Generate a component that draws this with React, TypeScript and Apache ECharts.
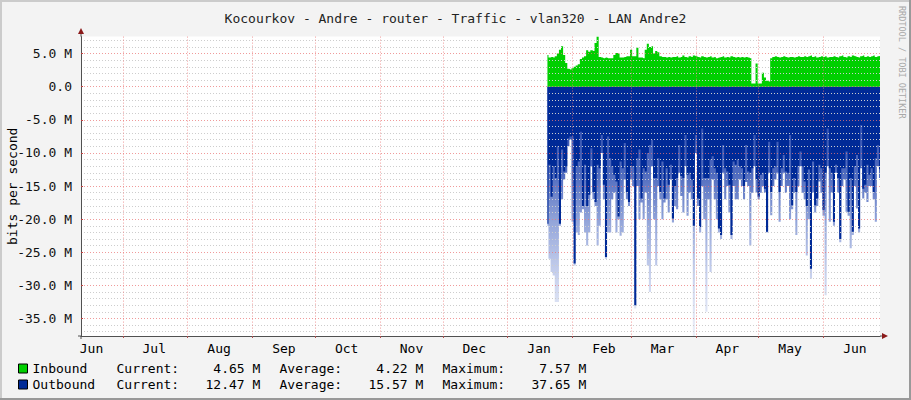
import React, { useEffect, useRef } from "react";
import * as echarts from "echarts";

// ---- data ----
const TITLE = "Kocourkov - Andre - router - Traffic - vlan320 - LAN Andre2";
const START_UTC = Date.UTC(2013, 5, 11); // first day on the x axis (Jun 11)
const DAY_COUNT = 383; // Jun 11 .. Jun 28 of next year
const DATA_START = 223; // first day with data (Jan 20)
const MONTH_NAMES = ["Jan", "Feb", "Mar", "Apr", "May", "Jun", "Jul", "Aug", "Sep", "Oct", "Nov", "Dec"];
const Y_MIN = -37.65;
const Y_MAX = 7.57;
const Y_MAJOR = [-35, -30, -25, -20, -15, -10, -5, 0, 5];

// inbound traffic, Mbit/s, one value per day from Jan 20
const inbound = [
  4.8, 4.4, 4.5, 4.4, 4.6, 5.0, 5.6, 6.1, 4.8, 3.6,
  2.7, 2.6, 2.8, 3.0, 3.2, 3.4, 4.2, 4.4, 4.6, 5.5,
  5.3, 5.5, 5.4, 6.6, 7.57, 4.5, 4.4, 4.3, 4.4, 4.3,
  4.3, 4.3, 4.8, 5.1, 5.0, 4.4, 4.4, 4.5, 4.6, 4.6,
  5.6, 4.6, 4.6, 5.9, 4.4, 4.4, 4.3, 5.6, 6.5, 6.0,
  6.1, 5.0, 5.4, 5.2, 4.6, 4.5, 4.5, 4.4, 4.5, 4.4,
  4.5,
  4.5, 4.6, 4.4, 4.5, 4.7, 4.5, 4.4, 4.6, 4.5, 4.7,
  4.6, 4.5, 4.4, 4.6, 4.5, 4.4, 4.5, 4.6, 4.4, 4.5,
  4.3, 4.4, 4.5, 4.6, 4.4, 4.5, 4.4, 4.6, 4.5, 4.4,
  4.5, 4.4, 4.5, 4.4, 4.5, 4.4, 4.3, 0.5, 0.5, 3.5,
  0.5, 0.5, 2.1, 1.4, 0.9, 0.8, 4.3, 4.5, 4.6, 4.5,
  4.4, 4.5, 4.6, 4.5, 4.4, 4.5, 4.5, 4.4, 4.5, 4.6,
  4.5,
  4.5, 4.6, 4.5, 4.6, 4.7, 4.5, 4.6, 4.4, 4.5, 4.6,
  4.5, 4.6, 4.4, 4.5, 4.5, 4.6, 4.5, 4.4, 4.6, 4.7,
  4.5, 4.4, 4.6, 4.5, 4.7, 4.6, 4.5, 4.4, 4.6, 4.7,
  4.5, 4.6, 4.5, 4.6, 4.7, 4.5, 4.6, 4.65,
];

// outbound traffic (drawn negative), Mbit/s, solid part per day
const outbound = [
  -20.7, -11.8, -16.6, -12, -13.8, -9, -20.7, -9.5, -12.8, -12,
  -7.8, -7.5, -7.5, -26.7, -12, -11.3, -6.8, -18, -11.8, -18,
  -16.3, -9.3, -15.9, -17.4, -11.8, -12.3, -7.3, -14.8, -25.7, -7.5,
  -10.8, -12, -13.3, -14.3, -19.6, -11.3, -12.3, -8.5, -15.9, -17.4,
  -12, -12, -33, -10.8, -9.5, -16.9, -12.3, -12.8, -10, -8.8,
  -8, -13.8, -13.8, -10.8, -15.9, -11.3, -16.9, -12.3, -14.8, -11.8,
  -19.9,
  -15, -13.8, -8.8, -13.5, -13.8, -7.3, -13.3, -13, -14, -21,
  -7.3, -16.9, -21.2, -6.3, -13.8, -13.8, -13.8, -11, -10.5, -12.3,
  -13, -21.4, -22.4, -8.8, -12.3, -12.8, -14.8, -22.4, -11.3, -11.8,
  -11, -12, -12.3, -15, -8.8, -12.8, -13, -12.3, -7.3, -14,
  -16.6, -13.3, -13, -15.4, -21.9, -8.3, -15.9, -12.3, -12, -8.3,
  -15.9, -12.3, -10.3, -12.8, -13, -7.3, -17.9, -13.8, -15.9, -12,
  -9.8,
  -12, -14.3, -18, -12.5, -27.5, -11.3, -17.9, -16.9, -11.8, -12.3,
  -18.6, -13, -6.3, -12.3, -13, -20.4, -11.8, -13.8, -23, -12.3,
  -12.3, -9.8, -18.9, -13.8, -21.9, -12, -10.3, -21.4, -5.8, -15.4,
  -14.8, -11.8, -13.3, -12.3, -15.9, -10.8, -8.8, -12.47,
];

// outbound short peaks (the faint tails), Mbit/s, per day
const outboundPeak = [
  -21, -26, -28, -28.5, -32.5, -32.5, -21, -17, -14, -13,
  -9, -8, -20.4, -27, -22, -22.4, -19, -18.5, -22, -24,
  -22, -12, -17, -18, -24, -21, -10, -17, -26, -22,
  -22, -17, -16, -22, -20, -22.5, -22, -14, -17, -18,
  -14, -15, -33.5, -15, -20, -17.5, -20, -16, -27, -31,
  -12, -20, -27, -15, -17, -20, -17.5, -17, -19, -14,
  -20.5,
  -18, -18.5, -13, -16.5, -19, -12, -19.5, -16, -17, -37.65,
  -10, -18, -22, -15, -20, -34, -17, -28, -14, -17,
  -20, -22, -23, -13, -17, -15, -19, -23, -15, -17,
  -17, -14, -15, -17, -14.4, -15, -24, -16, -12, -16,
  -17, -16, -15, -16, -22, -13, -19.4, -15, -14, -13,
  -20.4, -15, -13, -16, -15, -20, -18.5, -16, -22.4, -15,
  -12,
  -16, -17, -25.5, -20, -29, -16, -19, -18, -14.3, -16,
  -19.5, -31.5, -12, -20.4, -16, -21, -13, -16, -23.5, -15,
  -14, -18.9, -19.5, -24.4, -22.4, -15, -18.4, -22, -12.3, -16.9,
  -16, -17.4, -15, -15, -17, -20.4, -12, -13.8,
];

const inboundStats = ["4.65 M", "4.22 M", "7.57 M"];
const outboundStats = ["12.47 M", "15.57 M", "37.65 M"];

// ---- styling ----
const MONO = "'DejaVu Sans Mono', monospace";
const GREEN = "#00cf00";
const BLUE = "#002a97";
const MAJOR_GRID = "rgba(235, 120, 120, 0.75)";
const MINOR_GRID = "#cdcdcd";
const AXIS = "#505050";
const ARROW = "#8b1a1a";

const GRID_LEFT = 81;
const GRID_RIGHT = 31;
const GRID_TOP = 36.6;
const GRID_BOTTOM = 64;
const W = 911;
const H = 400;

const NBSP = "\u00a0";
const padValue = (s: string) => NBSP.repeat(Math.max(0, 7 - s.length)) + s;

export default function App() {
  const ref = useRef<HTMLDivElement>(null);

  useEffect(() => {
    document.body.style.margin = "0";
    const el = ref.current;
    if (!el) return;
    const chart = echarts.init(el, null, { renderer: "svg" });

    const days: Date[] = [];
    for (let i = 0; i < DAY_COUNT; i++) days.push(new Date(START_UTC + i * 86400000));
    const categories = days.map((d) => d.toISOString().slice(0, 10));
    const isMonthStart = (i: number) => !!days[i] && days[i].getUTCDate() === 1;
    const isMidMonth = (i: number) => !!days[i] && days[i].getUTCDate() === 16;

    const yMinor: number[] = [];
    for (let v = Math.ceil(Y_MIN); v <= Math.floor(Y_MAX); v++) if (v % 5 !== 0) yMinor.push(v);

    const toPairs = (arr: number[]) => arr.map((v, i) => [DATA_START + i, v]);

    const legendFormatter = (name: string) => {
      const s = name === "Inbound" ? inboundStats : outboundStats;
      return (
        `{n|${name}}` +
        `{l|Current:}{v|${padValue(s[0])}}` +
        `{l|Average:}{v|${padValue(s[1])}}` +
        `{l|Maximum:}{w|${padValue(s[2])}}`
      );
    };
    const richBase = { fontFamily: MONO, fontSize: 13, color: "#000", lineHeight: 13 };

    const plotBottom = H - GRID_BOTTOM;
    const plotRight = W - GRID_RIGHT;

    const fadeGradient = new echarts.graphic.LinearGradient(0, 0, 0, 1, [
      { offset: 0, color: "rgba(20, 55, 165, 0.95)" },
      { offset: 0.35, color: "rgba(30, 65, 172, 0.78)" },
      { offset: 0.55, color: "rgba(45, 80, 182, 0.5)" },
      { offset: 0.8, color: "rgba(70, 100, 195, 0.25)" },
      { offset: 1, color: "rgba(90, 120, 200, 0.12)" },
    ]);

    const option: any = {
      animation: false,
      backgroundColor: "#f3f3f3",
      title: {
        text: TITLE,
        left: "center",
        top: 7,
        textStyle: { fontFamily: MONO, fontSize: 13, fontWeight: "normal", color: "#222" },
      },
      grid: {
        left: GRID_LEFT,
        right: GRID_RIGHT,
        top: GRID_TOP,
        bottom: GRID_BOTTOM,
        containLabel: false,
        outerBoundsMode: "none",
        show: true,
        backgroundColor: "#ffffff",
        borderWidth: 0,
        z: -3,
      },
      legend: {
        data: ["Inbound", "Outbound"],
        orient: "vertical",
        left: 18,
        top: 362,
        padding: 0,
        itemWidth: 9,
        itemHeight: 9,
        itemGap: 3,
        icon: "rect",
        itemStyle: { borderColor: "#000", borderWidth: 1 },
        formatter: legendFormatter,
        textStyle: {
          ...richBase,
          rich: {
            n: { ...richBase, width: 84 },
            l: { ...richBase, width: 89 },
            v: { ...richBase, width: 74 },
            w: { ...richBase, width: 60 },
          },
        },
      },
      xAxis: {
        type: "category",
        data: categories,
        boundaryGap: false,
        axisLine: { show: true, onZero: false, lineStyle: { color: AXIS, width: 1 } },
        axisTick: {
          show: true,
          interval: (i: number) => isMonthStart(i),
          length: 2,
          lineStyle: { color: "#b05050" },
        },
        axisLabel: {
          interval: (i: number) => isMidMonth(i),
          formatter: (v: string) => MONTH_NAMES[new Date(v).getUTCMonth()],
          fontFamily: MONO,
          fontSize: 13,
          color: "#000",
          margin: 6,
        },
        splitLine: {
          show: true,
          interval: (i: number) => isMonthStart(i),
          lineStyle: { color: MAJOR_GRID, type: [1, 2], width: 1 },
        },
      },
      yAxis: [
        {
          type: "value",
          min: Y_MIN,
          max: Y_MAX,
          name: "bits per second",
          nameLocation: "middle",
          nameRotate: 90,
          nameGap: 62,
          nameMoveOverlap: false,
          nameTextStyle: { fontFamily: MONO, fontSize: 13, color: "#000" },
          axisLine: { show: true, onZero: false, lineStyle: { color: AXIS, width: 1 } },
          axisTick: { show: true, inside: true, length: 2, customValues: Y_MAJOR, lineStyle: { color: "#c04040" } },
          axisLabel: {
            customValues: Y_MAJOR,
            formatter: (v: number) => (v === 0 ? "0.0" : `${v.toFixed(1)} M`),
            fontFamily: MONO,
            fontSize: 13,
            color: "#111",
            margin: 9,
          },
          splitLine: { show: true, lineStyle: { color: MAJOR_GRID, type: [1, 2], width: 1 } },
          z: 0,
        },
        {
          type: "value",
          min: Y_MIN,
          max: Y_MAX,
          position: "left",
          axisLine: { show: false, onZero: false },
          axisTick: { show: false, customValues: yMinor },
          axisLabel: { show: false, customValues: yMinor },
          splitLine: { show: true, lineStyle: { color: MINOR_GRID, type: [1, 2], width: 1 } },
          z: -1,
        },
      ],
      series: [
        {
          name: "OutboundPeak",
          type: "line",
          data: toPairs(outboundPeak),
          step: "middle",
          symbol: "none",
          silent: true,
          color: "#3050b0",
          lineStyle: { width: 0 },
          areaStyle: { color: fadeGradient, opacity: 1 },
          z: -2,
        },
        {
          name: "Outbound",
          type: "line",
          data: toPairs(outbound),
          step: "middle",
          symbol: "none",
          color: BLUE,
          itemStyle: { color: BLUE },
          lineStyle: { width: 0 },
          areaStyle: { color: BLUE, opacity: 1 },
          z: -2,
        },
        {
          name: "Inbound",
          type: "line",
          data: toPairs(inbound),
          step: "middle",
          symbol: "none",
          color: GREEN,
          itemStyle: { color: GREEN },
          lineStyle: { width: 0 },
          areaStyle: { color: GREEN, opacity: 1 },
          z: -2,
        },
      ],
      graphic: [
        // frame shading
        { type: "rect", shape: { x: 0, y: 0, width: W, height: 2 }, style: { fill: "#cbcbcb" }, silent: true },
        { type: "rect", shape: { x: 0, y: 0, width: 2, height: H }, style: { fill: "#cbcbcb" }, silent: true },
        { type: "rect", shape: { x: W - 2, y: 0, width: 2, height: H }, style: { fill: "#999999" }, silent: true },
        { type: "rect", shape: { x: 0, y: H - 2, width: W, height: 2 }, style: { fill: "#999999" }, silent: true },
        // axis extensions and arrows
        { type: "line", shape: { x1: GRID_LEFT, y1: GRID_TOP, x2: GRID_LEFT, y2: 32 }, style: { stroke: AXIS, lineWidth: 1 }, silent: true },
        { type: "line", shape: { x1: GRID_LEFT, y1: plotBottom, x2: GRID_LEFT, y2: plotBottom + 3 }, style: { stroke: AXIS, lineWidth: 1 }, silent: true },
        { type: "line", shape: { x1: GRID_LEFT - 3, y1: plotBottom, x2: GRID_LEFT, y2: plotBottom }, style: { stroke: AXIS, lineWidth: 1 }, silent: true },
        { type: "line", shape: { x1: plotRight, y1: plotBottom, x2: plotRight + 3, y2: plotBottom }, style: { stroke: AXIS, lineWidth: 1 }, silent: true },
        {
          type: "polygon",
          shape: { points: [[GRID_LEFT, 28], [GRID_LEFT - 3, 34], [GRID_LEFT + 3, 34]] },
          style: { fill: ARROW },
          silent: true,
        },
        {
          type: "polygon",
          shape: { points: [[plotRight + 8, plotBottom], [plotRight + 2, plotBottom - 3], [plotRight + 2, plotBottom + 3]] },
          style: { fill: ARROW },
          silent: true,
        },
        {
          type: "text",
          x: 906,
          y: 6,
          rotation: -Math.PI / 2,
          style: {
            text: "RRDTOOL / TOBI OETIKER",
            fontFamily: MONO,
            fontSize: 8.5,
            fill: "#a8a8a8",
            textAlign: "left",
            textVerticalAlign: "top",
          },
          silent: true,
        },
      ],
    };

    chart.setOption(option);
    return () => chart.dispose();
  }, []);

  return (
    <div
      ref={ref}
      style={{ position: "absolute", left: 0, top: 0, width: W, height: H }}
    />
  );
}
